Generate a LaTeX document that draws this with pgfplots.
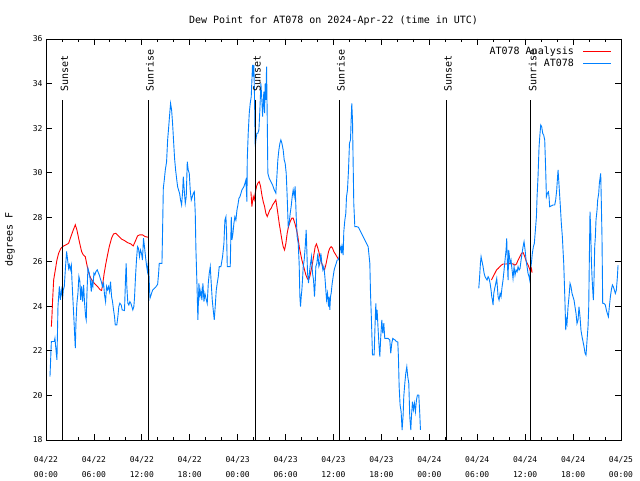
\documentclass[border=0pt]{standalone}
\usepackage{pgfplots}
\usepackage{pgfplotstable}
\pgfplotsset{compat=1.18}
\usepackage{fontspec}
\setmainfont{DejaVu Sans Mono}

\definecolor{obsblue}{RGB}{0,128,255}

% hours since 2024-04-22 00:00 UTC, dew point in F
\pgfplotstableread{
h     v
0.50  20.85
0.58  21.60
0.67  22.42
1.04  22.42
1.12  22.57
1.25  22.04
1.37  21.60
1.50  24.00
1.67  24.89
1.79  24.29
1.92  24.74
2.08  24.36
2.17  24.74
2.29  24.89
2.42  25.64
2.58  26.46
2.71  26.08
2.83  25.71
2.92  25.86
3.04  25.64
3.17  25.86
3.25  25.19
3.33  24.59
3.50  23.39
3.67  22.12
3.75  23.24
3.87  24.14
4.00  24.59
4.12  25.34
4.25  25.11
4.33  24.29
4.46  24.89
4.58  24.21
4.71  24.96
4.83  24.14
4.96  23.54
5.04  23.39
5.12  24.51
5.25  25.71
5.42  25.49
5.54  25.19
5.67  24.66
5.75  25.11
5.87  24.89
6.00  25.49
6.12  25.41
6.25  25.56
6.42  25.64
6.54  25.52
6.67  25.41
6.79  25.26
6.92  25.11
7.08  24.89
7.21  25.04
7.33  24.51
7.46  24.21
7.58  24.89
7.71  24.74
7.83  24.89
7.96  24.66
8.08  25.11
8.21  24.44
8.33  24.21
8.46  23.84
8.58  23.54
8.67  23.17
8.87  23.17
9.00  23.54
9.12  23.99
9.25  24.14
9.42  24.06
9.54  23.84
9.83  23.81
9.96  25.26
10.04 25.93
10.12 24.89
10.25 24.14
10.37 24.06
10.50 24.21
10.62 24.14
10.75 23.99
10.87 23.84
11.00 23.99
11.08 24.36
11.21 25.34
11.33 26.08
11.46 26.68
11.58 26.61
11.71 26.23
11.83 26.53
11.96 26.38
12.08 26.08
12.21 27.06
12.33 26.68
12.46 26.23
12.58 25.86
12.71 25.56
12.83 26.08
12.96 24.81
13.02 24.36
13.35 24.73
13.77 24.88
13.98 24.99
14.10 25.48
14.18 25.93
14.52 25.93
14.60 27.43
14.69 29.30
14.81 29.67
14.94 30.12
15.10 30.49
15.23 31.47
15.35 31.99
15.48 32.59
15.60 33.11
15.73 32.81
15.85 32.21
15.98 31.39
16.10 30.64
16.23 30.12
16.35 29.75
16.48 29.37
16.60 29.22
16.73 29.07
16.85 28.77
16.98 28.55
17.11 29.15
17.19 29.82
17.31 29.22
17.44 28.62
17.56 28.92
17.69 30.49
17.81 30.12
17.94 29.97
18.06 29.22
18.19 28.77
18.32 28.92
18.44 29.07
18.57 29.15
18.69 28.17
18.77 26.60
18.90 25.03
19.02 23.39
19.15 25.03
19.27 24.43
19.40 24.73
19.52 24.28
19.65 25.03
19.78 24.21
19.90 24.58
20.03 24.36
20.19 24.13
20.32 25.03
20.44 25.48
20.57 25.78
20.69 25.03
20.82 24.28
20.94 23.84
21.07 23.39
21.19 23.99
21.32 24.73
21.44 25.03
21.57 25.33
21.69 25.78
21.90 25.78
22.11 26.23
22.28 26.83
22.40 27.87
22.53 28.02
22.61 27.28
22.70 25.78
23.07 25.78
23.20 28.02
23.28 26.98
23.41 27.28
23.53 27.73
23.65 28.02
23.78 27.87
23.91 28.32
24.03 28.55
24.16 28.85
24.28 28.92
24.41 29.07
24.53 29.22
24.66 29.30
24.78 29.37
24.91 29.52
25.03 29.67
25.16 28.70
25.20 30.57
25.32 31.76
25.45 32.66
25.57 33.11
25.70 33.41
25.86 34.84
25.95 34.31
26.03 34.84
26.11 33.40
26.20 31.17
26.28 31.47
26.41 31.77
26.53 31.77
26.66 31.92
26.78 32.82
26.91 34.01
27.03 33.27
27.12 32.52
27.20 33.12
27.28 33.64
27.37 32.67
27.45 34.01
27.53 33.27
27.62 34.76
27.70 32.52
27.78 29.97
27.95 29.75
28.16 29.60
28.37 29.45
28.58 29.23
28.78 29.08
28.91 29.82
29.03 30.57
29.16 31.02
29.29 31.32
29.41 31.47
29.54 31.32
29.70 31.02
29.83 30.57
29.95 30.42
30.08 29.97
30.20 28.93
30.33 27.58
30.45 27.73
30.58 28.18
30.70 28.48
30.83 28.93
30.95 29.23
31.08 28.93
31.20 29.38
31.33 28.03
31.45 27.13
31.58 26.83
31.70 25.93
31.79 24.44
31.87 23.99
31.96 24.44
32.04 24.74
32.12 25.19
32.21 25.79
32.33 26.08
32.46 26.68
32.58 27.43
32.66 26.53
32.75 25.49
32.87 25.04
33.00 25.56
33.12 25.93
33.25 26.23
33.37 25.49
33.50 25.19
33.62 24.44
33.71 25.04
33.79 25.79
33.92 25.93
34.04 26.38
34.17 25.79
34.29 25.93
34.42 26.38
34.54 25.93
34.67 25.64
34.79 25.79
34.92 25.34
35.04 24.74
35.13 24.29
35.25 24.59
35.38 23.99
35.46 24.44
35.54 23.84
35.63 24.44
35.71 24.59
35.84 25.04
35.96 25.34
36.09 25.64
36.21 25.79
36.34 25.93
36.46 26.08
36.59 26.08
36.71 26.23
36.79 26.53
36.92 26.68
37.00 26.38
37.08 26.68
37.21 26.30
37.29 27.35
37.42 27.87
37.54 28.17
37.63 28.92
37.75 29.22
37.88 30.12
38.00 31.32
38.13 31.47
38.21 32.36
38.29 33.11
38.38 32.36
38.46 30.42
38.54 28.62
38.67 27.58
38.88 27.58
39.13 27.55
39.29 27.43
39.50 27.28
39.71 27.13
39.92 26.98
40.13 26.83
40.34 26.68
40.55 25.93
40.63 24.66
40.75 23.39
40.88 21.82
41.09 21.82
41.21 23.24
41.30 24.13
41.38 23.39
41.46 23.84
41.59 22.94
41.71 22.19
41.80 21.74
41.92 22.64
42.05 23.39
42.17 22.79
42.30 23.24
42.42 22.56
42.84 22.56
43.05 22.49
43.17 21.89
43.30 22.34
43.42 22.56
43.55 22.52
43.72 22.49
43.88 22.41
44.05 22.41
44.13 21.74
44.22 20.40
44.34 19.57
44.47 19.27
44.59 18.45
44.72 19.12
44.80 19.95
44.93 20.54
45.05 20.99
45.18 21.29
45.30 20.84
45.43 20.54
45.55 19.05
45.68 18.45
45.76 19.05
45.89 19.72
46.01 19.35
46.14 19.65
46.26 19.27
46.39 19.80
46.51 20.02
46.68 20.02
46.80 19.20
46.89 18.45
50.00 nan
54.19 24.81
54.27 25.18
54.40 25.93
54.48 26.23
54.56 26.08
54.65 25.93
54.73 25.78
54.86 25.48
54.98 25.33
55.11 25.25
55.23 25.18
55.36 25.33
55.48 25.25
55.61 25.03
55.73 24.73
55.82 24.43
55.90 24.28
55.98 24.06
56.07 24.58
56.19 24.81
56.32 25.03
56.44 25.25
56.52 24.88
56.61 24.43
56.73 24.28
56.86 24.58
56.98 24.43
57.11 24.88
57.23 25.18
57.36 25.63
57.48 26.08
57.61 26.53
57.69 27.05
57.78 25.93
57.86 25.18
57.94 26.53
58.03 26.23
58.11 25.93
58.23 26.08
58.36 25.63
58.48 25.25
58.61 25.78
58.73 25.40
58.86 25.63
58.99 25.55
59.11 25.78
59.24 25.63
59.36 25.70
59.49 26.08
59.61 26.38
59.74 26.68
59.86 26.90
59.99 26.53
60.11 26.08
60.24 25.78
60.36 25.48
60.49 25.33
60.57 25.18
60.65 25.63
60.78 25.93
60.90 26.38
61.03 26.68
61.15 26.82
61.28 27.42
61.41 28.02
61.49 28.92
61.61 29.82
61.74 31.16
61.86 31.76
61.95 32.14
62.07 32.06
62.20 31.76
62.32 31.69
62.45 31.46
62.57 30.12
62.66 28.92
62.78 29.07
62.91 29.14
62.99 28.92
63.07 28.47
63.49 28.55
63.70 28.55
63.82 28.77
63.95 29.22
64.03 29.67
64.12 30.12
64.20 29.67
64.28 29.22
64.41 28.47
64.53 27.72
64.66 27.12
64.74 26.53
64.83 25.93
64.91 25.03
64.99 24.13
65.08 22.93
65.16 23.38
65.24 23.23
65.37 23.98
65.49 24.43
65.62 25.03
65.74 24.88
65.87 24.58
65.99 24.43
66.12 24.28
66.24 23.98
66.37 23.68
66.49 23.23
66.62 23.38
66.74 23.98
66.87 23.53
66.99 22.93
67.12 22.64
67.25 22.41
67.37 22.19
67.50 21.89
67.62 21.81
67.75 22.49
67.87 23.08
67.96 23.98
68.04 26.23
68.12 28.25
68.21 27.42
68.29 26.08
68.37 25.33
68.46 24.73
68.54 24.28
68.62 25.18
68.71 26.68
68.79 27.12
68.87 27.87
69.00 28.32
69.08 28.77
69.21 29.07
69.29 29.52
69.37 29.74
69.46 29.97
69.54 28.62
69.62 27.12
69.71 24.13
69.87 24.13
70.04 24.06
70.17 23.83
70.29 23.68
70.42 23.53
70.54 23.98
70.67 24.43
70.79 24.73
70.92 24.96
71.04 24.88
71.17 24.73
71.29 24.58
71.42 24.73
71.55 25.33
71.63 25.85
}\obstable

\pgfplotstableread{
h     v
0.67  23.09
0.75  23.60
0.83  24.29
0.96  25.19
1.17  25.64
1.37  26.08
1.58  26.38
1.87  26.61
2.21  26.71
2.50  26.76
2.83  26.83
3.12  27.13
3.42  27.43
3.67  27.66
3.87  27.43
4.17  26.91
4.46  26.46
4.67  26.31
4.92  26.23
5.17  25.78
5.42  25.41
5.71  25.19
6.04  25.04
6.46  24.89
6.79  24.74
6.96  24.71
7.08  24.96
7.29  25.49
7.50  25.93
7.71  26.31
7.92  26.68
8.21  27.06
8.46  27.25
8.75  27.28
9.08  27.16
9.50  27.01
9.83  26.95
10.21 26.86
10.62 26.80
10.92 26.71
11.17 26.91
11.46 27.16
11.75 27.21
12.08 27.21
12.42 27.13
12.83 27.10
19.00 nan
25.66 29.15
25.78 28.48
25.95 28.93
26.07 28.78
26.20 29.08
26.36 29.38
26.53 29.53
26.70 29.60
26.87 29.38
27.03 29.00
27.20 28.70
27.37 28.48
27.53 28.18
27.70 28.03
27.87 28.18
28.03 28.33
28.20 28.40
28.37 28.55
28.58 28.66
28.78 28.78
28.91 28.48
29.03 28.18
29.20 27.73
29.37 27.36
29.54 26.98
29.70 26.68
29.87 26.53
30.04 26.83
30.20 27.28
30.37 27.58
30.58 27.81
30.79 27.96
30.95 27.96
31.16 27.73
31.37 27.43
31.54 27.13
31.71 26.68
31.87 26.38
32.04 26.08
32.21 25.86
32.37 25.64
32.54 25.41
32.71 25.26
32.87 25.19
33.04 25.34
33.21 25.64
33.37 25.93
33.54 26.31
33.71 26.68
33.87 26.80
34.04 26.61
34.21 26.38
34.38 26.08
34.54 25.93
34.71 25.71
34.88 25.64
35.04 25.86
35.21 26.16
35.38 26.46
35.54 26.61
35.71 26.68
35.88 26.61
36.04 26.46
36.29 26.31
36.54 26.16
36.79 26.08
45.00 nan
55.78 25.18
55.99 25.33
56.20 25.48
56.41 25.63
56.62 25.70
56.83 25.78
57.03 25.85
57.24 25.90
57.66 25.90
58.08 25.93
58.49 25.90
58.70 25.85
58.91 25.90
59.12 26.08
59.33 26.23
59.54 26.38
59.75 26.41
59.95 26.23
60.16 26.00
60.37 25.85
60.58 25.66
60.66 25.55
60.79 25.70
60.87 25.51
}\anltable

\begin{document}
\begin{tikzpicture}
\begin{axis}[
  scale only axis,
  width=575pt, height=401pt,
  at={(0pt,0pt)}, anchor=south west,
  xmin=0, xmax=72, ymin=18, ymax=36,
  xtick={0,6,...,72},
  xticklabels={{04/22\\00:00},{04/22\\06:00},{04/22\\12:00},{04/22\\18:00},
    {04/23\\00:00},{04/23\\06:00},{04/23\\12:00},{04/23\\18:00},
    {04/24\\00:00},{04/24\\06:00},{04/24\\12:00},{04/24\\18:00},{04/25\\00:00}},
  minor xtick={0,2,...,72},
  ytick={18,20,...,36},
  /pgf/number format/assume math mode=true,
  tick align=inside,
  major tick length=6pt, minor tick length=3pt,
  every tick/.style={black, line width=0.8pt},
  axis line style={line width=0.8pt},
  xticklabel style={font=\fontsize{8}{15}\selectfont, align=center, yshift=-13pt},
  yticklabel style={font=\fontsize{8}{10}\selectfont},
  ylabel={degrees F},
  ylabel style={font=\fontsize{10}{12}\selectfont, at={(axis description cs:-0.0626,0.5)}, anchor=center},
  title={Dew Point for AT078 on 2024-Apr-22 (time in UTC)},
  title style={font=\fontsize{10}{12}\selectfont, at={(axis description cs:0.5,1)}, anchor=center, yshift=12pt},
  unbounded coords=jump,
  legend style={draw=none, fill=none, at={(axis description cs:1,1)}, anchor=north east,
    xshift=-6pt, yshift=-4pt, font=\fontsize{10}{10}\selectfont, row sep=-1pt},
  legend cell align=right,
  legend plot pos=right,
  legend image code/.code={\path (0pt,0pt); \draw[#1] (7pt,0pt) -- (35pt,0pt);},
]
\addplot[red, line width=0.9pt] table[x=h, y=v] {\anltable};
\addlegendentry{AT078 Analysis}
\addplot[obsblue, line width=0.9pt] table[x=h, y=v] {\obstable};
\addlegendentry{AT078}

\foreach \t/\lab in {2.09/Sunset, 12.80/Sunrise, 26.20/Sunset, 36.70/Sunrise, 50.10/Sunset, 60.70/Sunrise}{
  \edef\temp{\noexpand\draw[black, line width=0.8pt] (axis cs:\t,18) -- (axis cs:\t,33.26)
    node[anchor=base west, rotate=90, inner sep=0pt, xshift=8pt, yshift=-5.5pt,
      font=\noexpand\fontsize{10}{12}\noexpand\selectfont] {\lab};}
  \temp
}
\end{axis}
\pgfresetboundingbox
\path[use as bounding box] (-46pt,-40pt) rectangle (594pt,440pt);
\end{tikzpicture}
\end{document}
